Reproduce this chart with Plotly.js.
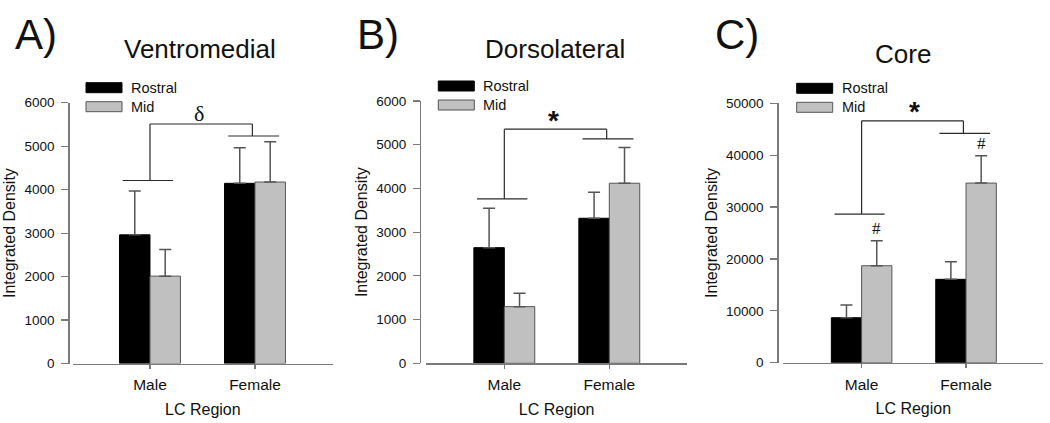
<!DOCTYPE html>
<html><head><meta charset="utf-8">
<script src="https://cdn.plot.ly/plotly-3.0.1.min.js"></script>
<style>html,body{margin:0;padding:0;background:#fff}#chart{width:1050px;height:423px}</style>
</head><body><div id="chart"></div>
<script>
// ---------------- data ----------------
const categories = ['Male', 'Female'];
const categoryPos = [0, 1];
const seriesNames = ['Rostral', 'Mid'];
const panelTitles = ['Ventromedial', 'Dorsolateral', 'Core'];
const panelLabels = ['A)', 'B)', 'C)'];
const xAxisTitle = 'LC Region';
const yAxisTitle = 'Integrated Density';

const vmRostral = [2960, 4145];
const vmRostralErr = [1010, 820];
const vmMid = [2010, 4175];
const vmMidErr = [615, 925];

const dlRostral = [2645, 3318];
const dlRostralErr = [900, 595];
const dlMid = [1296, 4119];
const dlMidErr = [306, 815];

const coreRostral = [8670, 16070];
const coreRostralErr = [2450, 3390];
const coreMid = [18690, 34620];
const coreMidErr = [4820, 5260];

const yTicksSmall = [0, 1000, 2000, 3000, 4000, 5000, 6000];
const yTicksCore = [0, 10000, 20000, 30000, 40000, 50000];

// significance brackets: [male level, female level, top level]
const vmBracket = [4210, 5234, 5510];
const dlBracket = [3760, 5133, 5355];
const coreBracket = [28650, 44200, 46630];
const sigSymbols = ['δ', '*', '*'];
const coreMidMarks = ['#', '#'];

// ---------------- layout helpers ----------------
const W = 1050, H = 423;
const px = v => v / W;
const py = v => 1 - v / H;
const FONT = 'Liberation Sans, Arial, sans-serif';
const SERIF = 'Liberation Serif, Times New Roman, serif';
const TXT = '#111';
const BLACK = '#000';
const GRAY = '#c0c0c0';
const GRAY_EDGE = '#555';
const AXIS = '#7a7a7a';
const BRACKET = '#2a2a2a';
const BARGAP = 0.42;
const barW = (1 - BARGAP) / 2;

const panels = [
  {rostral: vmRostral, rErr: vmRostralErr, mid: vmMid, mErr: vmMidErr, ticks: yTicksSmall,
   bracket: vmBracket, xl: 72.7, xr: 333, yTop: 102.7, yBot: 363.5, yAxisX: 68.3,
   xRange: [-0.736, 1.743], legX: 86, legY: 82.7, labelX: 13, titleX: 200, titleY: 49,
   symFont: {family: SERIF, size: 22, color: TXT}, symX: 0.47, symShift: 11},
  {rostral: dlRostral, rErr: dlRostralErr, mid: dlMid, mErr: dlMidErr, ticks: yTicksSmall,
   bracket: dlBracket, xl: 426, xr: 687.3, yTop: 101, yBot: 363.3, yAxisX: 420,
   xRange: [-0.746, 1.743], legX: 438.3, legY: 81, labelX: 355, titleX: 555, titleY: 49,
   symFont: {family: FONT, size: 28, color: TXT, weight: 'bold'}, symX: 0.47, symShift: 9},
  {rostral: coreRostral, rErr: coreRostralErr, mid: coreMid, mErr: coreMidErr, ticks: yTicksCore,
   bracket: coreBracket, xl: 783.3, xr: 1043.3, yTop: 103.3, yBot: 362.7, yAxisX: 777.3,
   xRange: [-0.75, 1.74], legX: 796.7, legY: 83.3, labelX: 713, titleX: 902.7, titleY: 54,
   symFont: {family: FONT, size: 28, color: TXT, weight: 'bold'}, symX: 0.51, symShift: 9}
];

const data = [];
const layout = {
  width: W, height: H,
  margin: {l: 0, r: 0, t: 0, b: 0},
  paper_bgcolor: '#fff', plot_bgcolor: 'rgba(0,0,0,0)',
  barmode: 'group', bargap: BARGAP, bargroupgap: 0,
  showlegend: false,
  font: {family: FONT, color: TXT},
  shapes: [], annotations: []
};

panels.forEach((p, i) => {
  const sfx = i === 0 ? '' : String(i + 1);
  const xa = 'x' + sfx, ya = 'y' + sfx;
  const err = (arr) => ({type: 'data', array: arr, arrayminus: arr.map(() => 0), symmetric: false,
    color: '#555', thickness: 1.5, width: 6});
  data.push({
    type: 'bar', name: seriesNames[0], x: categoryPos, y: p.rostral, xaxis: xa, yaxis: ya,
    marker: {color: BLACK, line: {color: BLACK, width: 1}}, error_y: err(p.rErr), hoverinfo: 'y'
  });
  data.push({
    type: 'bar', name: seriesNames[1], x: categoryPos, y: p.mid, xaxis: xa, yaxis: ya,
    marker: {color: GRAY, line: {color: GRAY_EDGE, width: 1}}, error_y: err(p.mErr), hoverinfo: 'y'
  });

  layout['xaxis' + sfx] = {
    domain: [px(p.xl), px(p.xr)], range: p.xRange, anchor: ya,
    tickvals: categoryPos, ticktext: categories,
    ticks: 'outside', ticklen: 4, tickwidth: 1.2, tickcolor: AXIS,
    showline: true, linecolor: AXIS, linewidth: 1.3, showgrid: false, zeroline: false,
    tickfont: {size: 15.5, color: TXT, family: FONT}, ticklabelstandoff: 3,
    title: {text: xAxisTitle, font: {size: 16, color: TXT, family: FONT}, standoff: 11},
    fixedrange: true
  };
  layout['yaxis' + sfx] = {
    domain: [py(p.yBot), py(p.yTop)], range: [0, p.ticks[p.ticks.length - 1]],
    anchor: 'free', position: px(p.yAxisX),
    tickvals: p.ticks, ticktext: p.ticks.map(String),
    ticks: 'outside', ticklen: 7, tickwidth: 1.2, tickcolor: AXIS,
    showline: true, linecolor: AXIS, linewidth: 1.3, showgrid: false, zeroline: false,
    tickfont: {size: 13.5, color: TXT, family: FONT}, ticklabelstandoff: 4,
    title: {text: yAxisTitle, font: {size: 16, color: TXT, family: FONT}, standoff: 3},
    fixedrange: true
  };

  // significance bracket
  const [bM, bF, bT] = p.bracket;
  const line = {color: BRACKET, width: 1.2};
  const mk = (x0, y0, x1, y1) => ({type: 'line', xref: xa, yref: ya, x0, y0, x1, y1, line});
  layout.shapes.push(mk(-0.26, bM, 0.22, bM));
  layout.shapes.push(mk(0.745, bF, 1.23, bF));
  layout.shapes.push(mk(0, bM, 0, bT));
  layout.shapes.push(mk(0, bT, 0.975, bT));
  layout.shapes.push(mk(0.975, bT, 0.975, bF));
  layout.annotations.push({
    xref: xa, yref: ya, x: p.symX, y: bT, text: sigSymbols[i], showarrow: false,
    xanchor: 'center', yanchor: 'middle', yshift: p.symShift, font: p.symFont
  });

  // legend (drawn)
  const legCols = [[BLACK, BLACK], [GRAY, GRAY_EDGE]];
  seriesNames.forEach((s, k) => {
    const top = p.legY + k * 19;
    layout.shapes.push({type: 'rect', xref: 'paper', yref: 'paper',
      x0: px(p.legX), x1: px(p.legX + 36), y0: py(top + 10), y1: py(top),
      fillcolor: legCols[k][0], line: {color: legCols[k][1], width: 1}});
    layout.annotations.push({xref: 'paper', yref: 'paper', x: px(p.legX + 43), y: py(top + 5),
      text: s, showarrow: false, xanchor: 'left', yanchor: 'middle',
      font: {size: 14.5, color: TXT, family: FONT}});
  });

  // panel label and title
  layout.annotations.push({xref: 'paper', yref: 'paper', x: px(p.labelX), y: py(34),
    text: panelLabels[i], showarrow: false, xanchor: 'left', yanchor: 'middle',
    font: {size: 42, color: TXT, family: FONT}});
  layout.annotations.push({xref: 'paper', yref: 'paper', x: px(p.titleX), y: py(p.titleY),
    text: panelTitles[i], showarrow: false, xanchor: 'center', yanchor: 'middle',
    font: {size: 26, color: TXT, family: FONT}});
});

// '#' marks above the core Mid bars
categoryPos.forEach((c, k) => {
  layout.annotations.push({xref: 'x3', yref: 'y3', x: c + barW / 2, y: coreMid[k] + coreMidErr[k],
    text: coreMidMarks[k], showarrow: false, xanchor: 'center', yanchor: 'middle', yshift: 12,
    font: {size: 17, color: TXT, family: SERIF}});
});

Plotly.newPlot('chart', data, layout, {displayModeBar: false, staticPlot: true});
</script></body></html>
